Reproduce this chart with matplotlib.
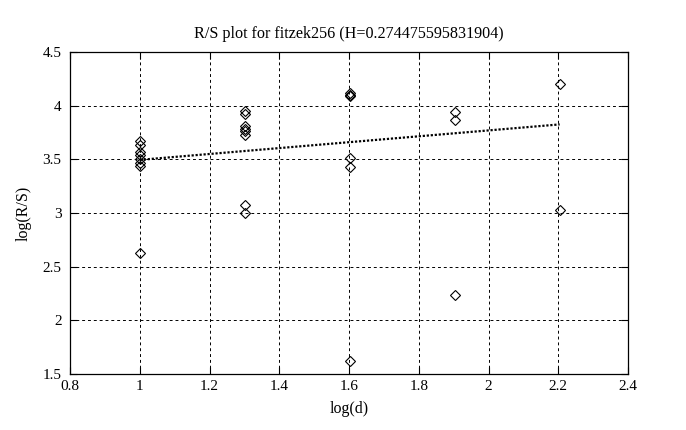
#!/usr/bin/env python3

import numpy as np
import matplotlib
matplotlib.use('Agg')
import matplotlib.pyplot as plt

# block sizes d and the log(R/S) values read from each group
d_values = [10, 20, 40, 80, 160]
rs_groups = [
    [3.67, 3.63, 3.57, 3.54, 3.50, 3.47, 3.44, 2.63],
    [3.95, 3.92, 3.81, 3.78, 3.76, 3.73, 3.07, 3.00],
    [4.12, 4.10, 4.09, 3.51, 3.43, 1.62],
    [3.94, 3.87, 2.24],
    [4.20, 3.03],
]

# fitted line: log(R/S) = H*log(d) + b
H = 0.274475595831904
b = 3.2205

x_ticks = [0.8, 1, 1.2, 1.4, 1.6, 1.8, 2, 2.2, 2.4]
x_labels = ['0.8', '1', '1.2', '1.4', '1.6', '1.8', '2', '2.2', '2.4']
y_ticks = [1.5, 2, 2.5, 3, 3.5, 4, 4.5]
y_labels = ['1.5', '2', '2.5', '3', '3.5', '4', '4.5']


def main():
    plt.rcParams['font.family'] = ['Liberation Serif', 'DejaVu Serif']
    plt.rcParams['font.size'] = 11

    fig = plt.figure(figsize=(6.86, 4.30), dpi=100)
    ax = fig.add_axes([70 / 686, 56 / 430, 558 / 686, 322 / 430])

    xs = []
    ys = []
    for d, group in zip(d_values, rs_groups):
        xs.extend([np.log10(d)] * len(group))
        ys.extend(group)

    ax.plot(xs, ys, linestyle='none', marker='D', markersize=5.5,
            markerfacecolor='none', markeredgecolor='black', markeredgewidth=0.8)

    fit_x = np.log10([d_values[0], d_values[-1]])
    ax.plot(fit_x, H * fit_x + b, color='black', linewidth=1.6,
            linestyle=(0, (1, 0.8)))

    ax.set_xlim(0.8, 2.4)
    ax.set_ylim(1.5, 4.5)
    ax.set_xticks(x_ticks)
    ax.set_xticklabels(x_labels)
    ax.set_yticks(y_ticks)
    ax.set_yticklabels(y_labels)
    ax.tick_params(direction='in', length=5, width=0.8, top=True, right=True,
                   colors='black', labelsize=11)
    ax.tick_params(axis='x', pad=4)
    ax.tick_params(axis='y', pad=6)
    ax.grid(True, color='black', linestyle=(0, (3, 3)), linewidth=0.7)
    for sp in ax.spines.values():
        sp.set_linewidth(0.9)

    ax.set_title('R/S plot for fitzek256 (H=0.274475595831904)',
                 fontsize=11.6, pad=10)
    ax.set_xlabel('log(d)', fontsize=11.5, labelpad=6)
    ax.set_ylabel('log(R/S)', fontsize=11.5, labelpad=8)

    fig.savefig('out.png', dpi=100)


if __name__ == "__main__":
    main()
